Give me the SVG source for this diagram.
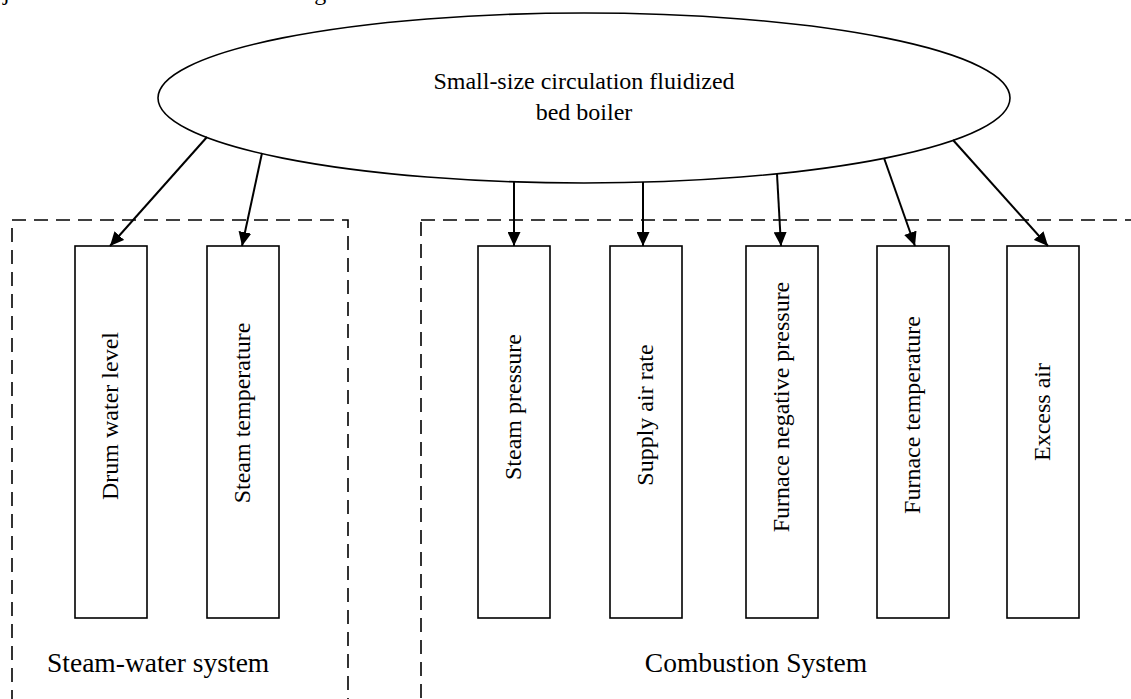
<svg xmlns="http://www.w3.org/2000/svg" width="1131" height="699" viewBox="0 0 1131 699">
<style>
.t{font-family:"Liberation Serif","Times New Roman",serif;font-size:24px;fill:#000}
.lbl{font-size:27.5px}
.box{fill:#fff;stroke:#000;stroke-width:1.6}
.grp{fill:none;stroke:#000;stroke-width:1.6;stroke-dasharray:14 8}
.con{stroke:#000;stroke-width:2;fill:none;marker-end:url(#ah)}
</style>
<defs>
<marker id="ah" markerWidth="14" markerHeight="13" refX="14" refY="6.5" viewBox="0 0 14 13" orient="auto" markerUnits="userSpaceOnUse">
<path d="M0,0 L14,6.5 L0,13 Z" fill="#000"/>
</marker>
</defs>
<rect width="1131" height="699" fill="#fff"/>
<text class="t" x="3" y="0">jects of the CFB are shown in Fig. 1.</text>
<g id="steam-water-system">
<rect class="grp" x="12" y="220" width="336" height="500"/>
<text class="t lbl" x="47" y="672">Steam-water system</text>
</g>
<g id="combustion-system">
<rect class="grp" x="421" y="220" width="740" height="500"/>
<text class="t lbl" x="756" y="672" text-anchor="middle">Combustion System</text>
</g>
<g id="boiler">
<ellipse cx="584" cy="98" rx="426" ry="85" fill="#fff" stroke="#000" stroke-width="1.6"/>
<text class="t" x="584" y="89" text-anchor="middle">Small-size circulation fluidized</text>
<text class="t" x="584" y="120" text-anchor="middle">bed boiler</text>
</g>
<g id="drum-water-level">
<rect class="box" x="75" y="246" width="72" height="372"/>
<text class="t" transform="translate(118,416) rotate(-90)" text-anchor="middle">Drum water level</text>
</g>
<g id="steam-temperature">
<rect class="box" x="207" y="246" width="72" height="372"/>
<text class="t" transform="translate(250,413) rotate(-90)" text-anchor="middle">Steam temperature</text>
</g>
<g id="steam-pressure">
<rect class="box" x="478" y="246" width="72" height="372"/>
<text class="t" transform="translate(521,407) rotate(-90)" text-anchor="middle">Steam pressure</text>
</g>
<g id="supply-air-rate">
<rect class="box" x="610" y="246" width="72" height="372"/>
<text class="t" transform="translate(653,415) rotate(-90)" text-anchor="middle">Supply air rate</text>
</g>
<g id="furnace-negative-pressure">
<rect class="box" x="746" y="246" width="72" height="372"/>
<text class="t" transform="translate(789,407) rotate(-90)" text-anchor="middle">Furnace negative pressure</text>
</g>
<g id="furnace-temperature">
<rect class="box" x="877" y="246" width="72" height="372"/>
<text class="t" transform="translate(920,415) rotate(-90)" text-anchor="middle">Furnace temperature</text>
</g>
<g id="excess-air">
<rect class="box" x="1007" y="246" width="72" height="372"/>
<text class="t" transform="translate(1050,412) rotate(-90)" text-anchor="middle">Excess air</text>
</g>
<g id="connectors">
<line class="con" x1="207" y1="137" x2="110" y2="246"/>
<line class="con" x1="262" y1="153" x2="242" y2="246"/>
<line class="con" x1="514" y1="182" x2="514" y2="246"/>
<line class="con" x1="643" y1="182" x2="643" y2="246"/>
<line class="con" x1="777" y1="174" x2="781" y2="246"/>
<line class="con" x1="884" y1="158" x2="915" y2="246"/>
<line class="con" x1="953" y1="140" x2="1048" y2="246"/>
</g>
</svg>
